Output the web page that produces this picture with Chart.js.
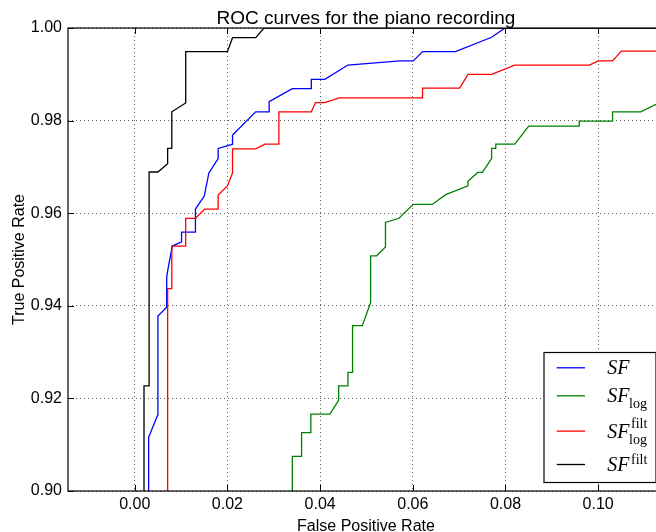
<!DOCTYPE html>
<html>
<head>
<meta charset="utf-8">
<script src="https://cdn.jsdelivr.net/npm/chart.js@4.4.1/dist/chart.umd.min.js"></script>
<style>
  html, body { margin: 0; padding: 0; background: #fff; overflow: hidden; }
  #wrap { width: 664px; height: 532px; }
</style>
</head>
<body>
<div id="wrap"><canvas id="roc" width="664" height="532"></canvas></div>
<script>
// axis ranges and ticks
const xMin = -0.0144, xMax = 0.1142;
const yMin = 0.90, yMax = 1.00;
const xTicks = [0.00, 0.02, 0.04, 0.06, 0.08, 0.10];
const yTicks = [0.90, 0.92, 0.94, 0.96, 0.98, 1.00];

// SF (blue)
const sfFpr = [0.0030, 0.0030, 0.0050, 0.0050, 0.0069, 0.0069, 0.0072, 0.0081, 0.0101, 0.0101, 0.0131, 0.0131, 0.0150, 0.0160, 0.0180, 0.0180, 0.0201, 0.0211, 0.0211, 0.0261, 0.0290, 0.0290, 0.0340, 0.0381, 0.0381, 0.0410, 0.0460, 0.0572, 0.0601, 0.0621, 0.0692, 0.0770, 0.0799, 0.1142];
const sfTpr = [0.880, 0.9116, 0.9165, 0.9378, 0.9397, 0.9462, 0.9481, 0.9529, 0.9538, 0.9559, 0.9559, 0.9609, 0.9637, 0.9687, 0.9718, 0.9740, 0.9746, 0.9749, 0.9769, 0.9819, 0.9819, 0.9841, 0.9869, 0.9869, 0.9889, 0.9889, 0.9920, 0.9929, 0.9929, 0.9949, 0.9949, 0.9980, 1.000, 1.000];

// SF log (green)
const sfLogFpr = [0.0340, 0.0340, 0.0360, 0.0360, 0.0380, 0.0380, 0.0421, 0.0440, 0.0440, 0.0460, 0.0460, 0.0470, 0.0470, 0.0491, 0.0509, 0.0509, 0.0522, 0.0541, 0.0541, 0.0570, 0.0601, 0.0642, 0.0671, 0.0719, 0.0719, 0.0740, 0.0750, 0.0770, 0.0770, 0.0779, 0.0779, 0.0820, 0.0850, 0.0959, 0.0959, 0.1031, 0.1031, 0.1092, 0.1142];
const sfLogTpr = [0.880, 0.9075, 0.9075, 0.9126, 0.9126, 0.9166, 0.9166, 0.9196, 0.9227, 0.9227, 0.9256, 0.9256, 0.9357, 0.9357, 0.9407, 0.9508, 0.9508, 0.9527, 0.9580, 0.9589, 0.9619, 0.9619, 0.9640, 0.9659, 0.9669, 0.9688, 0.9688, 0.9718, 0.9740, 0.9740, 0.9749, 0.9749, 0.9788, 0.9788, 0.9799, 0.9799, 0.9819, 0.9819, 0.9844];

// SF log filt (red)
const sfLogFiltFpr = [0.0071, 0.0071, 0.0080, 0.0080, 0.0110, 0.0110, 0.0131, 0.0151, 0.0180, 0.0180, 0.0200, 0.0211, 0.0211, 0.0261, 0.0281, 0.0311, 0.0311, 0.0381, 0.0390, 0.0410, 0.0441, 0.0621, 0.0621, 0.0701, 0.0719, 0.0770, 0.0820, 0.0981, 0.1000, 0.1031, 0.1050, 0.1142];
const sfLogFiltTpr = [0.880, 0.9437, 0.9437, 0.9529, 0.9529, 0.9589, 0.9589, 0.9609, 0.9609, 0.9639, 0.9659, 0.9687, 0.9739, 0.9739, 0.9749, 0.9749, 0.9819, 0.9819, 0.9839, 0.9839, 0.9849, 0.9849, 0.9870, 0.9870, 0.9900, 0.9900, 0.9920, 0.9920, 0.9929, 0.9929, 0.9950, 0.9950];

// SF filt (black)
const sfFiltFpr = [0.0020, 0.0020, 0.0031, 0.0031, 0.0050, 0.0071, 0.0071, 0.0080, 0.0080, 0.0110, 0.0110, 0.0200, 0.0211, 0.0261, 0.0279, 0.1142];
const sfFiltTpr = [0.880, 0.9227, 0.9227, 0.9689, 0.9689, 0.9707, 0.9740, 0.9740, 0.9819, 0.9838, 0.9949, 0.9949, 0.9979, 0.9979, 1.000, 1.000];

// legend text parts (base, subscript, superscript)
const legendBase = ['SF', 'SF', 'SF', 'SF'];
const legendSub = ['', 'log', 'log', ''];
const legendSup = ['', '', 'filt', 'filt'];
const colors = ['#0000ff', '#008000', '#ff0000', '#000000'];

const toPoints = (xs, ys) => xs.map((v, i) => ({ x: v, y: ys[i] }));
const series = [
  toPoints(sfFpr, sfTpr),
  toPoints(sfLogFpr, sfLogTpr),
  toPoints(sfLogFiltFpr, sfLogFiltTpr),
  toPoints(sfFiltFpr, sfFiltTpr)
];

const sans = '"Liberation Sans", Arial, sans-serif';
const serif = '"Liberation Serif", "Times New Roman", serif';

// spines, inward ticks, legend, titles
const decor = {
  id: 'decor',
  afterDatasetsDraw(chart) {
    const { ctx, chartArea: a, scales: { x, y } } = chart;
    ctx.save();
    ctx.strokeStyle = '#000';
    ctx.lineWidth = 1;
    ctx.beginPath();
    xTicks.forEach(v => {
      const px = Math.round(x.getPixelForValue(v)) + 0.5;
      ctx.moveTo(px, a.bottom); ctx.lineTo(px, a.bottom - 6);
      ctx.moveTo(px, a.top); ctx.lineTo(px, a.top + 6);
    });
    yTicks.forEach(v => {
      const py = Math.round(y.getPixelForValue(v)) + 0.5;
      ctx.moveTo(a.left, py); ctx.lineTo(a.left + 6, py);
      ctx.moveTo(a.right, py); ctx.lineTo(a.right - 6, py);
    });
    ctx.stroke();
    ctx.lineWidth = 1.2;
    ctx.strokeRect(a.left, a.top, a.right - a.left, a.bottom - a.top);

    // legend box, lower right
    const bw = 112, bh = 130;
    const bx = a.right - 8 - bw, by = a.bottom - 8.5 - bh;
    ctx.fillStyle = '#fff';
    ctx.fillRect(bx, by, bw, bh);
    ctx.lineWidth = 1.2;
    ctx.strokeStyle = '#000';
    ctx.strokeRect(bx, by, bw, bh);
    const rows = [15.3, 43.3, 78.6, 112];
    rows.forEach((off, i) => {
      const ry = by + off;
      ctx.strokeStyle = colors[i];
      ctx.lineWidth = 1.3;
      ctx.beginPath();
      ctx.moveTo(bx + 12.7, ry); ctx.lineTo(bx + 41, ry);
      ctx.stroke();
      const tx = bx + 63.3, base = ry + 6.6;
      ctx.fillStyle = '#000';
      ctx.textAlign = 'left';
      ctx.textBaseline = 'alphabetic';
      ctx.font = 'italic 20px ' + serif;
      ctx.fillText(legendBase[i], tx, base);
      const w = ctx.measureText(legendBase[i]).width;
      ctx.font = '14px ' + serif;
      if (legendSub[i]) ctx.fillText(legendSub[i], tx + w - 0.5, base + 5.8);
      if (legendSup[i]) ctx.fillText(legendSup[i], tx + w + 1.5, base - (legendSub[i] ? 9.4 : 7));
    });
    ctx.restore();
  },
  afterDraw(chart) {
    const { ctx, chartArea: a } = chart;
    const cx = (a.left + a.right) / 2, cy = (a.top + a.bottom) / 2;
    ctx.save();
    ctx.fillStyle = '#000';
    ctx.textAlign = 'center';
    ctx.textBaseline = 'alphabetic';
    ctx.font = '19px ' + sans;
    ctx.fillText('ROC curves for the piano recording', cx, 24);
    ctx.font = '16px ' + sans;
    ctx.fillText('False Positive Rate', cx, 531);
    ctx.translate(24, cy);
    ctx.rotate(-Math.PI / 2);
    ctx.fillText('True Positive Rate', 0, 0);
    ctx.restore();
  }
};

const gridOpts = { color: 'rgba(0,0,0,0.8)', lineWidth: 0.8, drawTicks: false };

new Chart(document.getElementById('roc'), {
  type: 'scatter',
  data: {
    datasets: series.map((pts, i) => ({
      label: legendBase[i] + legendSub[i] + legendSup[i],
      data: pts,
      showLine: true,
      borderColor: colors[i],
      backgroundColor: colors[i],
      borderWidth: 1.3,
      pointRadius: 0,
      tension: 0,
      order: 4 - i
    }))
  },
  options: {
    responsive: false,
    animation: false,
    layout: { padding: { top: 28, left: 0, right: 0, bottom: 0 } },
    plugins: { legend: { display: false }, tooltip: { enabled: false }, title: { display: false } },
    scales: {
      x: {
        type: 'linear', min: xMin, max: xMax,
        afterBuildTicks: s => { s.ticks = xTicks.map(v => ({ value: v })); },
        afterFit: s => { s.height = 41; },
        ticks: { padding: 4, color: '#000', font: { family: sans, size: 16 }, autoSkip: false, maxRotation: 0, callback: v => v.toFixed(2) },
        grid: gridOpts,
        border: { display: false, dash: [1, 3] }
      },
      y: {
        type: 'linear', min: yMin, max: yMax,
        afterBuildTicks: s => { s.ticks = yTicks.map(v => ({ value: v })); },
        afterFit: s => { s.width = 68; },
        ticks: { padding: 6, color: '#000', font: { family: sans, size: 16 }, autoSkip: false, callback: v => v.toFixed(2) },
        grid: gridOpts,
        border: { display: false, dash: [1, 3] }
      }
    }
  },
  plugins: [decor]
});
</script>
</body>
</html>
